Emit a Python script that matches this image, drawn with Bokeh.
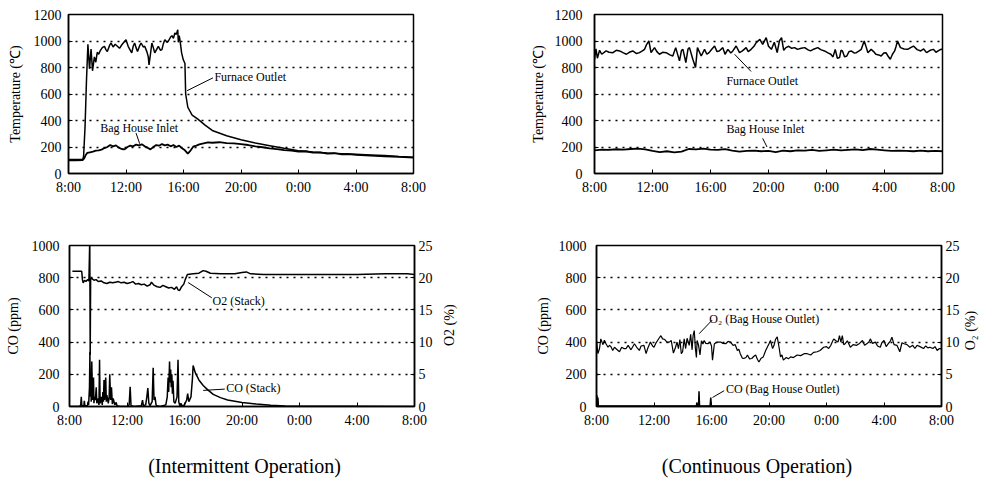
from bokeh.plotting import figure
from bokeh.models import Range1d, LinearAxis, FixedTicker, Label, Div
from bokeh.layouts import column, row
from bokeh.embed import file_html
from bokeh.resources import INLINE

FONT = "Liberation Serif"

# ---------------- axes / ticks ----------------
HOUR_TICKS = [0, 4, 8, 12, 16, 20, 24]
HOUR_LABELS = ["8:00", "12:00", "16:00", "20:00", "0:00", "4:00", "8:00"]
TEMP_TICKS = [0, 200, 400, 600, 800, 1000, 1200]
CO_TICKS = [0, 200, 400, 600, 800, 1000]
O2_TICKS = [0, 5, 10, 15, 20, 25]

# ---------------- Intermittent: furnace outlet temperature ----------------
INT_T_FURN = [0, 0.5, 1.0, 1.05, 1.15, 1.25, 1.35, 1.46, 1.57, 1.67,
              1.8, 1.9, 2.0, 2.1, 2.2, 2.35, 2.5, 2.6, 2.7, 2.85,
              2.96, 3.1, 3.25, 3.4, 3.55, 3.7, 3.85, 4.0, 4.15, 4.3,
              4.4, 4.5, 4.6, 4.7, 4.8, 4.95, 5.05, 5.2, 5.3, 5.45,
              5.55, 5.6, 5.7, 5.8, 5.9, 6.0, 6.15, 6.25, 6.4, 6.5,
              6.6, 6.7, 6.85, 6.95, 7.1, 7.2, 7.3, 7.4, 7.5, 7.6,
              7.64, 7.7, 7.75, 7.87, 7.98, 8.1, 8.15, 8.3, 8.6, 9.0,
              9.5, 10, 11, 12, 13, 14, 15, 16, 17, 18,
              19, 20, 21, 22, 23, 24]
INT_FURN = [105, 105, 108, 130, 350, 700, 975, 790, 940, 775,
            880, 840, 915, 900, 925, 950, 960, 935, 920, 965,
            985, 955, 975, 960, 945, 970, 990, 1010, 960, 930,
            910, 960, 985, 950, 920, 965, 985, 955, 960, 920,
            880, 820, 900, 985, 950, 910, 940, 960, 930, 935,
            980, 1010, 990, 1000, 1030, 1040, 1020, 1060, 1050, 1085,
            990, 1040, 1010, 910, 860, 830, 600, 500, 440, 410,
            365, 325, 285, 255, 230, 210, 190, 172, 162, 155,
            150, 145, 140, 135, 128, 122]

# ---------------- Intermittent: bag house inlet temperature ----------------
INT_T_BAG = [0, 0.5, 1.0, 1.1, 1.2, 1.3, 1.5, 1.7, 1.9, 2.1,
             2.3, 2.5, 2.7, 2.9, 3.1, 3.3, 3.5, 3.7, 3.9, 4.1,
             4.3, 4.5, 4.7, 4.9, 5.1, 5.3, 5.5, 5.7, 5.9, 6.1,
             6.3, 6.5, 6.7, 6.9, 7.1, 7.3, 7.5, 7.7, 7.9, 8.1,
             8.3, 8.5, 8.7, 8.9, 9.1, 9.4, 9.7, 10, 10.5, 11,
             11.5, 12, 12.5, 13, 13.5, 14, 14.5, 15, 15.5, 16,
             16.5, 17, 17.5, 18, 18.5, 19, 19.5, 20, 21, 22,
             23, 24]
INT_BAG = [100, 100, 102, 115, 140, 155, 160, 165, 172, 175,
           180, 192, 200, 215, 205, 212, 195, 185, 182, 200,
           210, 205, 218, 212, 220, 205, 195, 182, 200, 215,
           210, 222, 212, 218, 205, 215, 200, 210, 190, 175,
           150, 175, 205, 210, 220, 228, 235, 232, 236, 230,
           228, 222, 215, 205, 198, 190, 184, 176, 172, 166,
           168, 158, 160, 150, 153, 145, 147, 140, 135, 130,
           125, 120]

# ---------------- Intermittent: O2 (stack), % ----------------
INT_T_O2 = [0.2, 0.85, 0.9, 0.95, 1.05, 1.15, 1.25, 1.35, 1.41, 1.44,
            1.47, 1.55, 1.7, 1.85, 2.0, 2.2, 2.4, 2.6, 2.8, 3.0,
            3.2, 3.4, 3.6, 3.8, 4.0, 4.2, 4.4, 4.6, 4.8, 5.0,
            5.2, 5.4, 5.6, 5.7, 5.9, 6.1, 6.3, 6.5, 6.7, 6.9,
            7.1, 7.3, 7.45, 7.55, 7.65, 7.8, 7.95, 8.05, 8.2, 8.6,
            9.0, 9.3, 9.5, 9.8, 10.5, 11.5, 12.0, 12.3, 12.6, 13.5,
            16, 20, 22, 23.5, 24]
INT_O2 = [21.0, 21.0, 19.7, 19.2, 19.6, 19.4, 19.7, 19.5, 26.0, 8.0,
          19.8, 19.9, 19.6, 19.7, 19.4, 19.5, 19.2, 19.1, 19.3, 19.2,
          19.3, 19.4, 19.2, 19.3, 19.1, 19.2, 19.4, 19.0, 19.1, 18.9,
          19.0, 18.7, 18.9, 19.3, 18.8, 18.6, 18.5, 18.8, 18.6, 18.4,
          18.5, 18.2, 18.6, 18.1, 18.0, 18.6, 19.0, 19.7, 20.5, 20.6,
          20.7, 21.1, 21.0, 20.7, 20.6, 20.6, 20.8, 20.9, 20.6, 20.5,
          20.5, 20.5, 20.6, 20.6, 20.5]

# ---------------- Intermittent: CO (stack), ppm ----------------
INT_T_CO = [0, 0.7, 0.78, 0.82, 0.86, 1.0, 1.03, 1.07, 1.25, 1.29,
            1.33, 1.39, 1.42, 1.45, 1.48, 1.51, 1.55, 1.6, 1.63, 1.67,
            1.7, 1.74, 1.8, 1.86, 1.9, 1.96, 2.05, 2.09, 2.13, 2.2,
            2.28, 2.32, 2.36, 2.4, 2.44, 2.48, 2.52, 2.56, 2.6, 2.7,
            2.76, 2.8, 2.86, 2.92, 2.98, 3.04, 3.15, 3.25, 3.3, 3.5,
            4.0, 4.15, 4.22, 4.28, 4.5, 5.0, 5.08, 5.14, 5.3, 5.38,
            5.45, 5.52, 5.6, 5.75, 5.82, 5.88, 5.95, 6.02, 6.08, 6.3,
            6.7, 6.8, 6.86, 6.9, 6.96, 7.0, 7.04, 7.08, 7.12, 7.16,
            7.2, 7.26, 7.35, 7.48, 7.55, 7.6, 7.68, 7.75, 7.8, 8.0,
            8.15, 8.22, 8.3, 8.45, 8.55, 8.6, 8.75, 9.0, 9.3, 9.6,
            10.0, 10.5, 11.0, 12.0, 13.0, 14.0, 15.0, 24.0]
INT_CO = [0, 0, 10, 60, 5, 5, 35, 5, 5, 30,
          10, 120, 340, 60, 200, 30, 280, 40, 90, 180,
          20, 60, 40, 120, 20, 50, 10, 290, 20, 60,
          10, 90, 30, 165, 40, 130, 180, 30, 70, 20,
          60, 200, 40, 120, 15, 50, 10, 25, 5, 0,
          0, 10, 122, 5, 0, 5, 40, 5, 10, 60,
          115, 20, 5, 30, 240, 40, 60, 10, 5, 0,
          10, 60, 180, 90, 280, 150, 230, 120, 200, 80,
          160, 30, 20, 60, 290, 30, 5, 20, 5, 10,
          40, 80, 30, 60, 170, 255, 210, 165, 130, 105,
          75, 55, 40, 25, 15, 8, 3, 0]

# ---------------- Continuous: furnace outlet temperature ----------------
CON_T_FURN = [0.0, 0.1, 0.2, 0.35, 0.5, 0.8, 1.0, 1.27, 1.5, 1.73,
              2.0, 2.2, 2.4, 2.64, 2.9, 3.1, 3.3, 3.45, 3.6, 3.75,
              3.9, 4.14, 4.3, 4.48, 4.7, 4.94, 5.2, 5.4, 5.6, 5.86,
              6.0, 6.1, 6.3, 6.45, 6.55, 6.78, 6.97, 7.1, 7.36, 7.59,
              7.75, 7.9, 8.1, 8.28, 8.45, 8.6, 8.85, 9.0, 9.2, 9.4,
              9.54, 9.77, 10.0, 10.2, 10.46, 10.6, 10.8, 11.0, 11.15, 11.4,
              11.6, 11.84, 12.0, 12.2, 12.4, 12.6, 12.75, 12.9, 13.05, 13.2,
              13.4, 13.6, 13.8, 14.0, 14.25, 14.5, 14.7, 14.9, 15.15, 15.4,
              15.6, 15.86, 16.1, 16.3, 16.45, 16.6, 16.75, 16.9, 17.0, 17.1,
              17.25, 17.4, 17.55, 17.7, 17.9, 18.06, 18.25, 18.4, 18.5, 18.6,
              18.75, 18.85, 19.08, 19.25, 19.4, 19.6, 19.77, 19.95, 20.1, 20.25,
              20.4, 20.55, 20.7, 20.8, 20.9, 21.1, 21.35, 21.6, 21.8, 22.0,
              22.25, 22.5, 22.7, 22.9, 23.15, 23.37, 23.55, 23.7, 23.85, 24.0]
CON_FURN = [860, 940, 870, 930, 900, 925, 915, 912, 930, 925,
            910, 900, 915, 925, 905, 912, 925, 937, 975, 1000,
            912, 950, 920, 900, 915, 912, 895, 887, 950, 850,
            930, 937, 837, 940, 950, 862, 800, 950, 887, 937,
            900, 912, 940, 962, 920, 925, 950, 900, 937, 910,
            925, 962, 912, 925, 950, 920, 937, 960, 987, 1012,
            975, 1025, 960, 937, 990, 912, 1000, 1025, 930, 950,
            960, 945, 950, 937, 945, 950, 935, 925, 940, 950,
            935, 925, 910, 900, 880, 937, 870, 875, 930, 925,
            880, 887, 920, 925, 910, 912, 925, 937, 970, 1000,
            950, 912, 937, 920, 900, 895, 887, 910, 912, 885,
            862, 900, 925, 960, 1000, 950, 940, 937, 950, 962,
            935, 925, 940, 912, 930, 937, 915, 925, 935, 937]

# ---------------- Continuous: bag house inlet temperature ----------------
CON_T_BAG = [0, 0.5, 1, 1.5, 2, 2.5, 3, 3.5, 4, 4.5,
             5, 5.5, 6, 6.5, 7, 7.5, 8, 8.5, 9, 9.5,
             10, 10.5, 11, 11.5, 12, 12.5, 13, 13.5, 14, 14.5,
             15, 15.5, 16, 16.5, 17, 17.5, 18, 18.5, 19, 19.5,
             20, 20.5, 21, 21.5, 22, 22.5, 23, 23.5, 24]
CON_BAG = [175, 180, 178, 183, 180, 185, 188, 182, 170, 162,
           168, 160, 165, 185, 182, 188, 180, 178, 184, 172,
           165, 170, 172, 168, 170, 162, 172, 168, 175, 172,
           178, 170, 175, 180, 174, 178, 182, 176, 185, 180,
           175, 170, 172, 170, 168, 172, 168, 170, 168]

# ---------------- Continuous: O2 (bag house outlet), % ----------------
CON_T_O2 = [0.0, 0.1, 0.21, 0.3, 0.45, 0.55, 0.67, 0.8, 0.9, 1.0,
            1.13, 1.25, 1.4, 1.6, 1.75, 1.9, 2.06, 2.2, 2.4, 2.64,
            2.8, 2.98, 3.1, 3.3, 3.45, 3.56, 3.75, 3.9, 4.0, 4.12,
            4.25, 4.35, 4.48, 4.6, 4.75, 4.9, 5.06, 5.2, 5.35, 5.5,
            5.6, 5.7, 5.8, 5.9, 5.99, 6.1, 6.2, 6.3, 6.45, 6.55,
            6.65, 6.72, 6.8, 6.88, 6.95, 7.0, 7.1, 7.2, 7.3, 7.4,
            7.49, 7.6, 7.75, 7.9, 8.0, 8.07, 8.2, 8.4, 8.64, 8.8,
            8.99, 9.15, 9.33, 9.5, 9.65, 9.8, 9.9, 10.0, 10.15, 10.25,
            10.4, 10.5, 10.65, 10.8, 10.95, 11.07, 11.2, 11.3, 11.45, 11.6,
            11.77, 11.88, 12.0, 12.1, 12.25, 12.35, 12.45, 12.57, 12.7, 12.8,
            12.9, 13.0, 13.2, 13.35, 13.5, 13.7, 13.96, 14.2, 14.45, 14.66,
            14.9, 15.1, 15.35, 15.55, 15.8, 16.0, 16.15, 16.3, 16.4, 16.5,
            16.65, 16.8, 16.9, 17.0, 17.1, 17.2, 17.3, 17.45, 17.66, 17.85,
            18.1, 18.3, 18.5, 18.65, 18.8, 18.95, 19.05, 19.2, 19.4, 19.55,
            19.74, 19.85, 20.0, 20.15, 20.3, 20.45, 20.55, 20.7, 20.9, 21.1,
            21.25, 21.4, 21.6, 21.8, 22.0, 22.15, 22.3, 22.5, 22.75, 22.9,
            23.05, 23.2, 23.4, 23.55, 23.7, 23.85, 24.0]
CON_O2 = [10.2, 8.2, 9.0, 10.5, 9.6, 10.3, 9.7, 9.2, 9.5, 9.3,
          8.7, 9.2, 8.9, 8.5, 9.2, 9.0, 9.0, 9.5, 8.8, 9.75,
          9.2, 8.7, 9.4, 9.5, 8.2, 9.0, 10.0, 9.4, 9.2, 9.8,
          10.25, 10.6, 11.0, 10.5, 10.4, 10.0, 10.0, 10.25, 8.3, 9.2,
          10.0, 9.0, 10.4, 8.2, 8.5, 10.5, 9.0, 10.6, 9.5, 11.2,
          8.8, 11.0, 11.8, 9.0, 7.6, 10.25, 9.5, 8.0, 10.2, 9.7,
          10.25, 9.8, 9.75, 10.0, 9.4, 7.2, 9.75, 10.0, 10.0, 9.8,
          9.75, 10.1, 10.0, 9.5, 9.6, 8.7, 8.9, 8.2, 7.5, 7.45,
          7.6, 8.0, 7.4, 7.45, 7.8, 8.0, 7.3, 6.9, 7.5, 7.7,
          8.7, 9.2, 9.75, 10.25, 9.0, 9.5, 10.4, 10.8, 9.2, 7.7,
          8.0, 7.2, 7.6, 7.4, 7.7, 7.6, 8.0, 7.9, 8.2, 8.2,
          8.0, 8.4, 8.5, 8.7, 9.2, 9.3, 9.0, 9.5, 10.0, 10.5,
          10.2, 10.0, 11.0, 10.0, 11.0, 9.6, 9.75, 10.2, 9.2, 9.6,
          9.5, 9.8, 10.25, 9.5, 9.75, 10.0, 10.5, 9.8, 10.0, 9.4,
          9.2, 9.9, 10.25, 9.3, 9.75, 10.2, 10.75, 9.6, 9.5, 8.5,
          9.9, 9.75, 9.6, 9.2, 9.5, 9.0, 9.5, 9.3, 9.0, 9.4,
          9.1, 9.2, 9.0, 9.3, 8.7, 9.0, 9.0]

# ---------------- Continuous: CO (bag house outlet), ppm ----------------
CON_T_CO = [0, 0.03, 0.06, 0.1, 0.13, 0.17, 6.8, 6.95, 6.98, 7.02,
            7.1, 7.13, 7.17, 7.9, 7.95, 7.99, 24]
CON_CO = [3, 70, 3, 55, 3, 3, 3, 3, 25, 3,
          3, 95, 3, 3, 55, 3, 3]


def style_axis(ax, standoff):
    ax.axis_line_color = "black"
    ax.axis_line_width = 1.5
    ax.major_tick_in = 4
    ax.major_tick_out = 0
    ax.major_tick_line_color = "black"
    ax.minor_tick_line_color = None
    ax.major_label_text_font = FONT
    ax.major_label_text_font_size = "14px"
    ax.major_label_text_color = "black"
    ax.major_label_standoff = standoff
    ax.axis_label_text_font = FONT
    ax.axis_label_text_font_size = "14px"
    ax.axis_label_text_font_style = "normal"
    ax.axis_label_text_color = "black"


def make_fig(w, h, bl, br, bt, bb, ymax, yticks, ylabel, ystand, lstand):
    p = figure(width=w, height=h, x_range=Range1d(0, 24), y_range=Range1d(0, ymax),
               output_backend="svg", toolbar_location=None,
               min_border_left=bl, min_border_right=br,
               min_border_top=bt, min_border_bottom=bb)
    p.background_fill_color = "white"
    p.border_fill_color = "white"
    p.outline_line_color = "black"
    p.outline_line_width = 1.5
    p.outline_line_alpha = 1.0
    xa = p.xaxis[0]
    xa.ticker = FixedTicker(ticks=HOUR_TICKS)
    xa.major_label_overrides = {t: l for t, l in zip(HOUR_TICKS, HOUR_LABELS)}
    style_axis(xa, 6)
    ya = p.yaxis[0]
    ya.ticker = FixedTicker(ticks=yticks)
    ya.axis_label = ylabel
    ya.axis_label_standoff = lstand
    style_axis(ya, ystand)
    p.xgrid.visible = False
    p.ygrid.ticker = FixedTicker(ticks=yticks[1:-1])
    p.ygrid.grid_line_color = "black"
    p.ygrid.grid_line_dash = "2 5"
    p.ygrid.grid_line_width = 1.5
    return p


def annotate(p, x, y, text, size="12px"):
    p.add_layout(Label(x=x, y=y, text=text, text_font=FONT, text_font_size=size,
                       text_color="black", text_baseline="middle", text_align="left"))


def leader(p, x0, y0, x1, y1):
    p.segment(x0=[x0], y0=[y0], x1=[x1], y1=[y1], line_color="black", line_width=1)


def right_o2_axis(p, stand):
    p.extra_y_ranges = {"o2": Range1d(0, 25)}
    ra = LinearAxis(y_range_name="o2", ticker=FixedTicker(ticks=O2_TICKS))
    style_axis(ra, stand)
    p.add_layout(ra, "right")


def side_title(w, h, cx, cy, text):
    # narrow strip holding the right-hand (O2) axis title, read bottom-to-top
    g = figure(width=w, height=h, x_range=Range1d(0, w), y_range=Range1d(0, h),
               x_axis_type=None, y_axis_type=None, output_backend="svg",
               toolbar_location=None, min_border=0)
    g.outline_line_color = None
    g.grid.visible = False
    g.background_fill_color = "white"
    g.border_fill_color = "white"
    g.add_layout(Label(x=cx, y=cy, text=text, angle=90, angle_units="deg",
                       text_font=FONT, text_font_size="14px", text_color="black",
                       text_align="center", text_baseline="middle"))
    return g


LW = 1.5

# ---- Figure 1: intermittent temperatures ----
f1 = make_fig(499, 221, 68, 86, 14, 48, 1200, TEMP_TICKS, "Temperature (\u2103)", 7, 8)
f1.line(INT_T_FURN, INT_FURN, line_color="black", line_width=LW)
f1.line(INT_T_BAG, INT_BAG, line_color="black", line_width=LW + 0.3)
annotate(f1, 10.15, 725, "Furnace Outlet")
leader(f1, 10.05, 722, 8.25, 625)
annotate(f1, 2.2, 345, "Bag House Inlet")
leader(f1, 4.7, 305, 4.95, 225)

# ---- Figure 2: continuous temperatures ----
f2 = make_fig(481, 221, 95, 38, 14, 47, 1200, TEMP_TICKS, "Temperature (\u2103)", 12, 6)
f2.line(CON_T_FURN, CON_FURN, line_color="black", line_width=LW)
f2.line(CON_T_BAG, CON_BAG, line_color="black", line_width=LW + 0.3)
annotate(f2, 9.1, 698, "Furnace Outlet")
leader(f2, 9.66, 900, 10.8, 770)
annotate(f2, 9.1, 338, "Bag House Inlet")
leader(f2, 11.6, 265, 11.9, 200)

# ---- Figure 3: intermittent CO / O2 ----
f3 = make_fig(436, 212, 69, 22, 21, 27, 1000, CO_TICKS, "CO (ppm)", 10, 8)
right_o2_axis(f3, 4)
f3.line(INT_T_CO, INT_CO, line_color="black", line_width=LW)
f3.line(INT_T_O2, INT_O2, line_color="black", line_width=LW, y_range_name="o2")
annotate(f3, 9.95, 655, "O2 (Stack)")
leader(f3, 9.9, 675, 8.25, 770)
annotate(f3, 10.9, 112, "CO (Stack)")
leader(f3, 10.8, 108, 9.3, 100)
g3 = side_title(63, 212, 13, 107, "O2 (%)")

# ---- Figure 4: continuous CO / O2 ----
f4 = make_fig(463, 212, 97, 20, 24, 27, 1000, CO_TICKS, "CO (ppm)", 10, 5)
right_o2_axis(f4, 4)
f4.line(CON_T_CO, CON_CO, line_color="black", line_width=LW)
f4.line(CON_T_O2, CON_O2, line_color="black", line_width=1.2, y_range_name="o2")
annotate(f4, 7.85, 546, "O\u2082 (Bag House Outlet)")
leader(f4, 8.05, 537, 7.14, 452)
annotate(f4, 9.0, 108, "CO (Bag House Outlet)")
leader(f4, 8.88, 98, 8.07, 56)
g4 = side_title(20, 212, 8, 100, "O\u2082 (%)")

CAP = ("<div style=\"font-family:'Liberation Serif',serif;font-size:20px;color:black;"
       "text-align:center;padding-top:14px;margin-left:{ml}px;width:{w}px;\">{t}</div>")
d1 = Div(text=CAP.format(ml=0, w=479, t="(Intermittent Operation)"), width=499, height=52)
d2 = Div(text=CAP.format(ml=22, w=442, t="(Continuous Operation)"), width=483, height=52)

page = column(row(f1, f2), row(f3, g3, f4, g4), row(d1, d2))

with open("out.html", "w") as fh:
    fh.write(file_html(page, INLINE))
